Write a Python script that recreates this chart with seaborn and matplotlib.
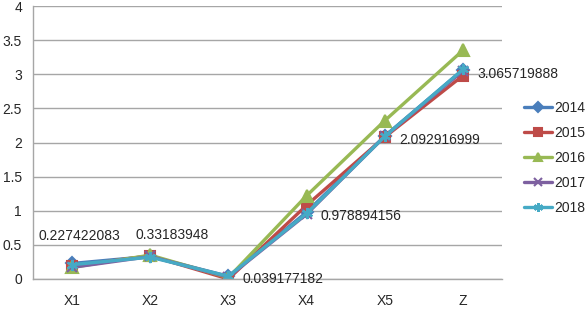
import matplotlib
matplotlib.use("Agg")
import matplotlib.pyplot as plt
import seaborn as sns
import pandas as pd

categories = ["X1", "X2", "X3", "X4", "X5", "Z"]
years = ["2014", "2015", "2016", "2017", "2018"]
v2014 = [0.227422083, 0.33183948, 0.039177182, 0.978894156, 2.092916999, 3.065719888]
v2015 = [0.19, 0.34, 0.00, 1.08, 2.08, 2.98]
v2016 = [0.17, 0.35, 0.02, 1.22, 2.32, 3.35]
v2017 = [0.17, 0.33, 0.03, 0.95, 2.09, 3.05]
v2018 = [0.21, 0.32, 0.04, 0.96, 2.09, 3.07]
label_texts = ["0.227422083", "0.33183948", "0.039177182", "0.978894156", "2.092916999", "3.065719888"]
yticks = [0, 0.5, 1, 1.5, 2, 2.5, 3, 3.5, 4]

series = [v2014, v2015, v2016, v2017, v2018]
df = pd.DataFrame([
    {"cat": c, "val": v, "year": y}
    for y, vals in zip(years, series)
    for c, v in zip(categories, vals)
])

colors = {"2014": "#4A7EBB", "2015": "#BE4B48", "2016": "#98B954",
          "2017": "#7D60A0", "2018": "#46AAC5"}
markers = {"2014": "D", "2015": "s", "2016": "^", "2017": "x", "2018": (6, 2, 0)}
msizes = {"2014": 6.5, "2015": 7.5, "2016": 8, "2017": 7, "2018": 8}

sns.set_style("white")
plt.rcParams["font.family"] = ["Liberation Sans", "DejaVu Sans"]
FS = 10

fig = plt.figure(figsize=(5.85, 3.09), dpi=100)
ax = fig.add_axes([33 / 585, 1 - 279 / 309, 469 / 585, 273 / 309])

for y in years:
    sub = df[df["year"] == y]
    sns.lineplot(data=sub, x="cat", y="val", color=colors[y], marker=markers[y],
                 markersize=msizes[y], markeredgewidth=1.5, markeredgecolor=colors[y],
                 linewidth=2.4, ax=ax, sort=False, label=y)

ax.set_xlim(-0.5, 5.5)
ax.set_ylim(0, 4)
ax.set_yticks(yticks)
ax.set_yticklabels([f"{t:g}" for t in yticks], fontsize=FS)
ax.set_xlabel("")
ax.set_ylabel("")
ax.grid(axis="y", color="#A6A6A6", linewidth=1)
ax.set_axisbelow(True)
for s in ["top", "right"]:
    ax.spines[s].set_visible(False)
for s in ["left", "bottom"]:
    ax.spines[s].set_color("#A6A6A6")
    ax.spines[s].set_linewidth(1)

ax.set_xticks(range(len(categories)))
ax.set_xticklabels(categories, fontsize=FS)
ax.tick_params(axis="x", length=0, pad=11)
ax.tick_params(axis="y", length=0, pad=8)
ax.set_xticks([i - 0.5 for i in range(len(categories) + 1)], minor=True)
ax.tick_params(axis="x", which="minor", length=5, color="#A6A6A6", direction="out", width=1)

offsets = [(0.09, 0.63), (0.28, 0.65)]
for i, txt in enumerate(label_texts):
    if i < 2:
        dx, ty = offsets[i]
        ax.text(i + dx, ty, txt, fontsize=FS, ha="center", va="center")
    elif i == 2:
        ax.text(i + 0.18, 0.0, txt, fontsize=FS, ha="left", va="center", clip_on=False)
    else:
        ax.text(i + 0.18, v2014[i] - 0.06, txt, fontsize=FS, ha="left", va="center")

ax.legend(loc="center left", bbox_to_anchor=(1.047, 0.443), frameon=False,
          fontsize=FS, handlelength=2.0, labelspacing=0.8, handletextpad=0.2,
          markerscale=0.8, borderaxespad=0, borderpad=0)

fig.savefig("out.png", dpi=100)
